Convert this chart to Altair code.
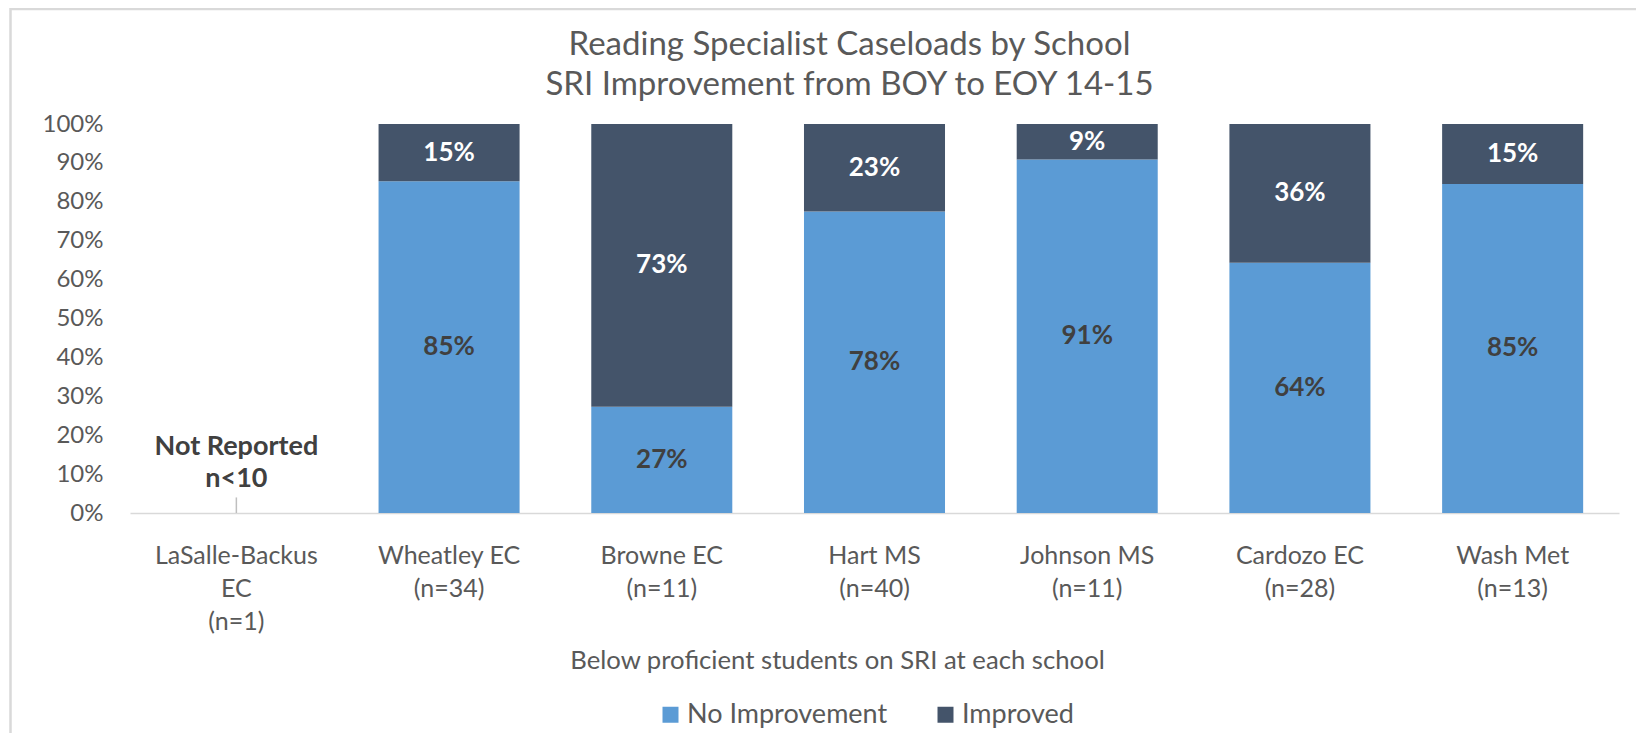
import math
import altair as alt
import pandas as pd

# ---- data ----
schools = ["LaSalle-Backus EC", "Wheatley EC", "Browne EC", "Hart MS",
           "Johnson MS", "Cardozo EC", "Wash Met"]
axis_labels = ["LaSalle-Backus|EC|(n=1)", "Wheatley EC|(n=34)", "Browne EC|(n=11)",
               "Hart MS|(n=40)", "Johnson MS|(n=11)", "Cardozo EC|(n=28)", "Wash Met|(n=13)"]
no_improvement = [None, 0.853, 0.273, 0.775, 0.909, 0.643, 0.846]
improved = [None, 0.147, 0.727, 0.225, 0.091, 0.357, 0.154]
series = ["No Improvement", "Improved"]
colors = ["#5B9BD5", "#44546A"]
not_reported = ["Not Reported", "n<10"]
y_ticks = [0, 0.1, 0.2, 0.3, 0.4, 0.5, 0.6, 0.7, 0.8, 0.9, 1.0]

rows = []
for s, lab, a, b in zip(schools, axis_labels, no_improvement, improved):
    if a is None:
        continue
    start = 0.0
    for ser, v in zip(series, [a, b]):
        rows.append({"school": lab, "series": ser, "value": v,
                     "mid": start + v / 2,
                     "label": f"{math.floor(v * 100 + 0.5)}%"})
        start += v
df = pd.DataFrame(rows)

W, H = 1489, 389
FONT = "Lato"
GRAY = "#595959"

xscale = alt.Scale(domain=axis_labels, paddingInner=0.337, paddingOuter=0.1685)
yscale = alt.Scale(domain=[0, 1], nice=False)

xaxis = alt.Axis(labelExpr="split(datum.label, '|')", labelAngle=0, labelFontSize=25,
                 labelFont=FONT, labelColor=GRAY, labelLineHeight=33, labelPadding=30,
                 labelBaseline="top", ticks=False, domainColor="#d9d9d9", domainWidth=1.5,
                 title="Below proficient students on SRI at each school",
                 titleFontSize=25.7, titleFont=FONT, titleColor=GRAY, titleFontWeight="normal",
                 titleX=707, titleY=147, titleBaseline="middle")
yaxis = alt.Axis(format=".0%", values=y_ticks, labelFontSize=24,
                 labelFont=FONT, labelColor=GRAY, ticks=False, domain=False, grid=False,
                 labelPadding=27, labelOverlap=False, title=None)

X = alt.X("school:N", scale=xscale, axis=xaxis, sort=axis_labels)

base = alt.Chart(df)

bars = base.mark_bar().encode(
    x=X,
    y=alt.Y("value:Q", scale=yscale, axis=yaxis, stack="zero"),
    color=alt.Color("series:N", scale=alt.Scale(domain=series, range=colors),
                    legend=alt.Legend(title=None, orient="none", legendX=527, legendY=577,
                                      direction="horizontal", symbolType="square",
                                      symbolSize=256, symbolStrokeWidth=0,
                                      labelFontSize=27, labelFont=FONT, labelColor=GRAY,
                                      columnPadding=44, labelOffset=3, labelLimit=400)),
    order=alt.Order("order:Q"),
).transform_calculate(order="datum.series === 'No Improvement' ? 0 : 1")

texts = base.mark_text(font=FONT, fontSize=26, fontWeight="bold").encode(
    x=X,
    y=alt.Y("mid:Q", scale=yscale, axis=yaxis),
    text="label:N",
    color=alt.condition("datum.series === 'Improved'", alt.value("#ffffff"), alt.value("#404040")),
)

nr_df = pd.DataFrame({"school": [axis_labels[0]], "y": [0.0], "y2": [0.04],
                      "txt": [not_reported]})
nr_base = alt.Chart(nr_df)
leader = nr_base.mark_rule(color="#bfbfbf", strokeWidth=1.5).encode(
    x=X, y=alt.Y("y:Q", scale=yscale, axis=yaxis), y2="y2:Q")
nr_text = nr_base.mark_text(font=FONT, fontSize=27, fontWeight="bold", color="#404040",
                            baseline="bottom", dy=-36, lineHeight=32).encode(
    x=X, y=alt.Y("y2:Q", scale=yscale, axis=yaxis), text="txt")

frame = alt.Chart(pd.DataFrame({"a": [0]})).mark_rect(
    filled=False, stroke="#d9d9d9", strokeWidth=2.5).encode(
    x=alt.value(-119.5), x2=alt.value(W + 200), y=alt.value(-115), y2=alt.value(H + 400))

chart = alt.layer(frame, bars, texts, leader, nr_text).properties(
    width=W, height=H,
    padding={"left": 122, "top": 116, "right": 17, "bottom": 220},
    autosize=alt.AutoSizeParams(type="none"),
    title=alt.TitleParams(
        text=["Reading Specialist Caseloads by School", "SRI Improvement from BOY to EOY 14-15"],
        fontSize=33, font=FONT, fontWeight="normal", color=GRAY, anchor="middle",
        dx=-25, offset=0, dy=94, lineHeight=40),
).configure_view(stroke=None).configure_axisY(labelOverlap=False)

chart.save("out.html", embed_options={"renderer": "svg", "actions": False})
